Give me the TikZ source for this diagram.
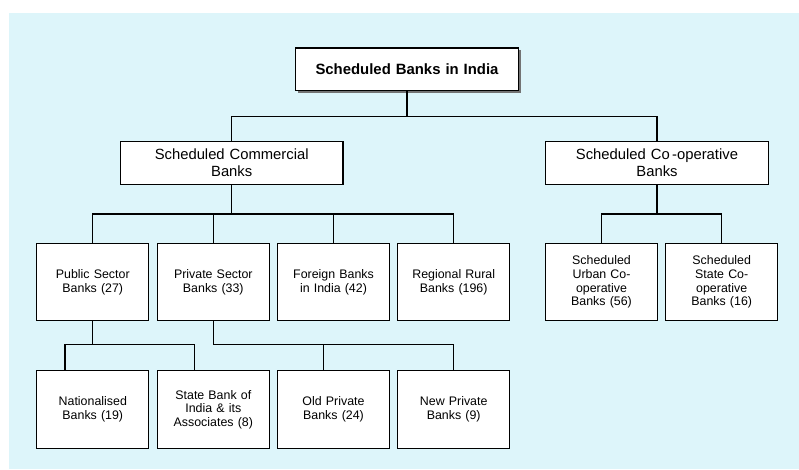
\documentclass[tikz,border=0pt]{standalone}
\usepackage{fontspec}
\setsansfont{Liberation Sans}
\usepackage{tikz}
\usetikzlibrary{shapes}
\usetikzlibrary{calc}
\usetikzlibrary{positioning}
\usetikzlibrary{shadows}

\definecolor{bgcyan}{HTML}{DDF5FA}

\begin{document}
\begin{tikzpicture}[
		x=1pt,
		y=-1pt,
		/utils/exec={\sffamily},
		font=\fontsize{12.4pt}{13.6pt}\selectfont,
		line width=1.2pt,
	]
		\tikzset{bankbox/.style={
			draw=black,
			fill=white,
			rectangle,
			inner sep=0,
			minimum width=112,
			minimum height=77.5,
			text width=104,
			align=center,
		}}
		\tikzset{groupbox/.style={
			bankbox,
			minimum width=222.5,
			minimum height=42.6,
			text width=214,
			font=\fontsize{14.8pt}{16.7pt}\selectfont,
		}}
		\tikzset{topbox/.style={
			groupbox,
			font=\fontsize{14.9pt}{16.7pt}\selectfont\bfseries,
			drop shadow={shadow xshift=2.5pt, shadow yshift=-2.5pt, fill=black!55, opacity=1},
		}}

		\useasboundingbox (0,0) rectangle (799,469);
		\fill[bgcyan] (9,13) rectangle (799,469);

		\node[topbox] (india) at (407,69.2) {Scheduled Banks in India};

		\node[groupbox] (commercial) at (231.7,163) {Scheduled Commercial\\Banks};
		\node[groupbox] (cooperative) at (657,163) {Scheduled Co\,-operative\\Banks};

		\node[bankbox] (public) at (92.8,282) {Public Sector\\Banks (27)};
		\node[bankbox] (private) at (213.3,282) {Private Sector\\Banks (33)};
		\node[bankbox] (foreign) at (333.5,282) {Foreign Banks\\in India (42)};
		\node[bankbox] (rural) at (453.7,282) {Regional Rural\\Banks (196)};
		\node[bankbox] (urban) at (601.5,282) {Scheduled\\Urban Co-\\operative\\Banks (56)};
		\node[bankbox] (statecoop) at (721.7,282) {Scheduled\\State Co-\\operative\\Banks (16)};

		\node[bankbox] (national) at (92.8,409.5) {Nationalised\\Banks (19)};
		\node[bankbox] (sbi) at (213.3,409.5) {State Bank of\\India \& its\\Associates (8)};
		\node[bankbox] (oldpvt) at (333.5,409.5) {Old Private\\Banks (24)};
		\node[bankbox] (newpvt) at (453.7,409.5) {New Private\\Banks (9)};

		% top level
		\draw (india.south) -- ++(0,25) coordinate (indiaj);
		\draw (indiaj) -| (commercial.north);
		\draw (indiaj) -| (cooperative.north);

		% commercial banks
		\draw (commercial.south) -- ++(0,29) coordinate (commj);
		\draw (commj) -| (public.north);
		\draw (commj) -| (private.north);
		\draw (commj) -| (foreign.north);
		\draw (commj) -| (rural.north);

		% co-operative banks
		\draw (cooperative.south) -- ++(0,29) coordinate (coopj);
		\draw (coopj) -| (urban.north);
		\draw (coopj) -| (statecoop.north);

		% public sector
		\draw (public.south) -- ++(0,23.3) coordinate (pubj);
		\draw (pubj) -| ($(national.north)-(27.8,0)$);
		\draw (pubj) -| ($(sbi.north)-(18.6,0)$);

		% private sector
		\draw (private.south) -- ++(0,23.3) coordinate (pvtj);
		\draw (pvtj) -| ($(oldpvt.north)-(10.2,0)$);
		\draw (pvtj) -| (newpvt.north);
	\end{tikzpicture}
\end{document}
